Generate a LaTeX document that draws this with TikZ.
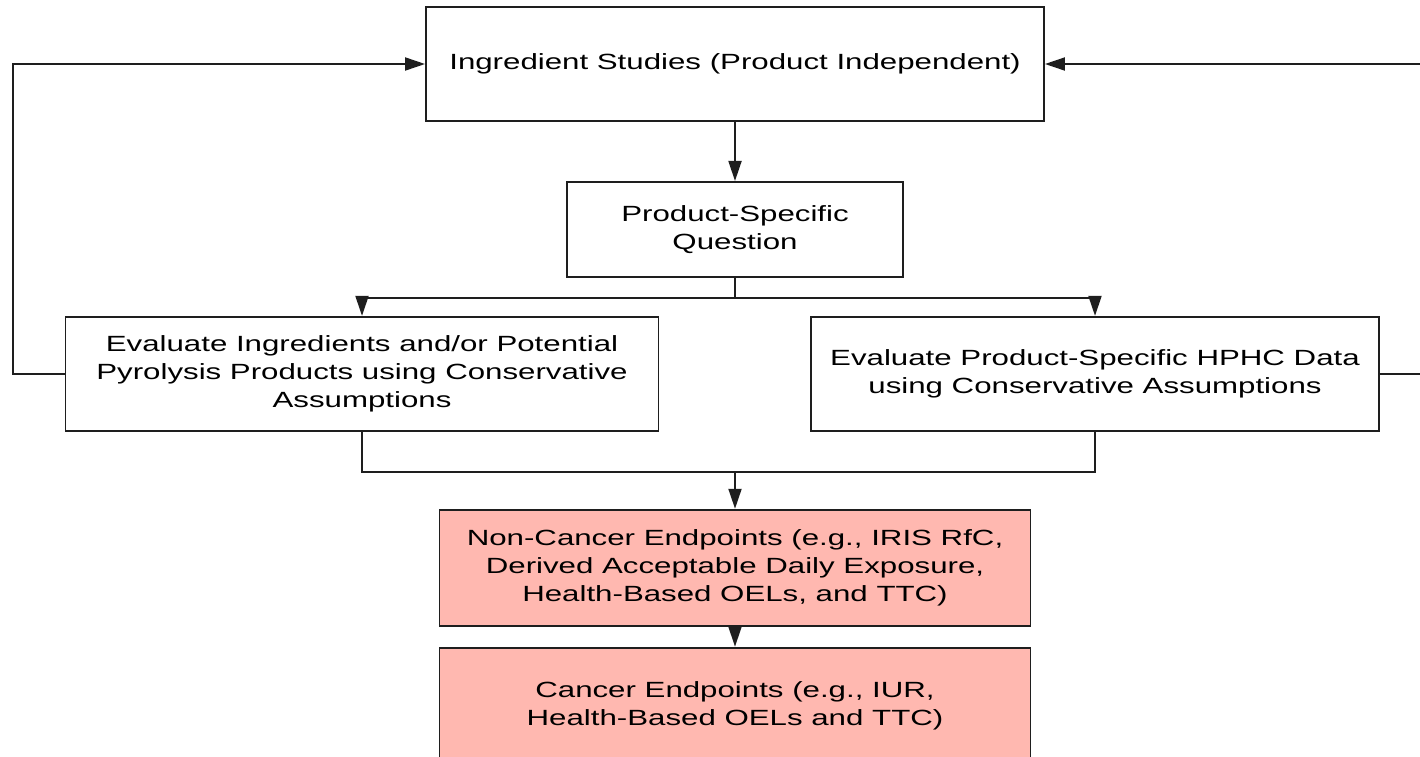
\documentclass[tikz,border=0pt]{standalone}
\usepackage{fontspec}
\setmainfont{Liberation Sans}[FakeStretch=1.42]
\usepackage{xcolor}
\usepackage{tikz}
\usetikzlibrary{positioning,arrows.meta}
\definecolor{lachs}{HTML}{FFB8B0}
\definecolor{rand}{HTML}{1E1E1E}
\tikzstyle{block} = [draw=rand, rectangle,
	line width=1.9pt,
	align=center,
	inner sep = 1ex,
	font=\fontsize{22}{27.7}\selectfont
	]
\tikzstyle{endpunkt} = [block, fill=lachs,
	minimum width=591pt,
	minimum height=116pt
	]
\tikzstyle{linie} = [draw=rand,
	line width=1.9pt, >={Triangle[length=20pt,width=13pt]}
	]

\begin{document}
\begin{tikzpicture}[x=1pt, y=1pt]
    \useasboundingbox (0,0) rectangle (1420,-756);

    \node [block, minimum width=618pt, minimum height=114pt] at (735,-64) (studies)
    	{Ingredient Studies (Product Independent)};
    \node [block, minimum width=336pt, minimum height=95pt, below=59pt of studies] (question)
    	{Product-Specific\\Question};

    \node [block, minimum width=593pt, minimum height=114pt,
    	below=38pt of question, xshift=-373pt] (ingred)
    	{Evaluate Ingredients and/or Potential\\Pyrolysis Products using Conservative\\Assumptions};
    \node [block, minimum width=568pt, minimum height=114pt,
    	below=38pt of question, xshift=360pt] (hphc)
    	{Evaluate Product-Specific HPHC Data\\using Conservative Assumptions};

    \coordinate (split) at ([yshift=-20pt] question.south);
    \coordinate (merge) at ([yshift=-40pt] ingred.south -| question.south);

    \node [endpunkt, below=37pt of merge] (noncancer)
    	{Non-Cancer Endpoints (e.g., IRIS RfC,\\Derived Acceptable Daily Exposure,\\Health-Based OELs, and TTC)};
    \node [endpunkt, below=20pt of noncancer] (cancer)
    	{Cancer Endpoints (e.g., IUR,\\Health-Based OELs and TTC)};

    \draw [linie, ->] (studies) -- (question);
    \draw [linie] (question) -- (split);
    \draw [linie, ->] (split) -| (ingred.north);
    \draw [linie, ->] (split) -| (hphc.north);

    \draw [linie] (ingred.south) |- (merge) -| (hphc.south);
    \draw [linie, ->] (merge) -- (noncancer);
    \draw [linie, ->] (noncancer) -- (cancer);

    % back to the ingredient studies
    \draw [linie, ->] (ingred.west) -- ++(-52,0) |- (studies.west);
    \draw [linie, ->] (hphc.east) -- ++(45,0) |- (studies.east);
\end{tikzpicture}
\end{document}
